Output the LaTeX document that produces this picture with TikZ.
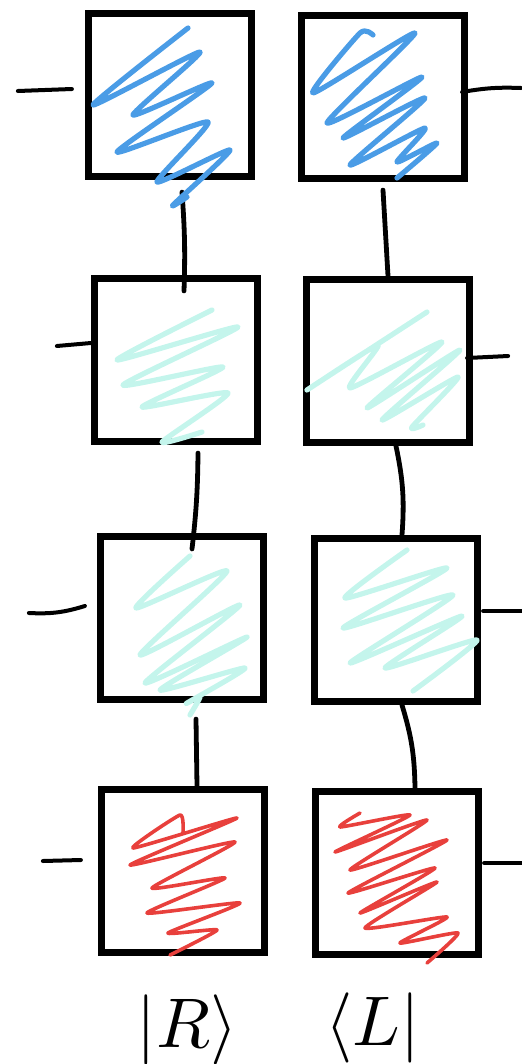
\documentclass[tikz,border=0pt]{standalone}
\usepackage{tikz}
\usetikzlibrary{calc}
\definecolor{penblue}{HTML}{4A9CE6}
\definecolor{pencyan}{HTML}{C4F5EC}
\definecolor{penred}{HTML}{E8403C}
\tikzset{
  cell/.style={rectangle, draw=black, line width=3.6mm, minimum size=81.5mm, inner sep=0pt},
  link/.style={draw=black, line width=2.4mm, line cap=round},
  stub/.style={draw=black, line width=2mm, line cap=round},
  scribble/.style={line width=2.6mm, line cap=round, line join=round},
  bluescrib/.style={scribble, draw=penblue},
  cyanscrib/.style={scribble, draw=pencyan},
  redscrib/.style={scribble, draw=penred, line width=1.8mm},
  ketlbl/.style={scale=10, inner sep=0pt},
}
\begin{document}
\begin{tikzpicture}[x=0.5mm, y=-0.5mm]
\useasboundingbox (0,0) rectangle (521,1064);

% left column
\node[cell] (L1) at (170,95) {};
\node[cell] (L2) at (176,360) {};
\node[cell] (L3) at (182,618) {};
\node[cell] (L4) at (183,871) {};
% right column
\node[cell] (R1) at (383,97) {};
\node[cell] (R2) at (388,361) {};
\node[cell] (R3) at (396,620) {};
\node[cell] (R4) at (397,873) {};

% links between the cells
\draw[link] ([xshift=6mm,yshift=-6mm]L1.south) to[bend left=3] ([xshift=4mm,yshift=-8mm]L2.north);
\draw[link] ([xshift=11mm,yshift=-4mm]L2.south) to[bend left=3] ([xshift=5mm,yshift=-8mm]L3.north);
\draw[link] ([xshift=7mm,yshift=-8mm]L3.south) -- ([xshift=7mm]L4.north);
\draw[link] ([yshift=-4mm]R1.south) -- (R2.north);
\draw[link] ([xshift=4mm]R2.south) to[bend left=8] ([xshift=3mm]R3.north);
\draw[link] ([xshift=3mm]R3.south) to[bend left=8] ([xshift=9mm]R4.north);

% side stubs
\draw[stub] ($(L1.west)+(-13,-6)$) -- ++(-54,2);
\draw[stub] ($(L2.west)+(0,-17)$) -- ++(-34,3);
\draw[stub] ($(L3.west)+(-12,-12)$) to[bend left=10] ++(-56,7);
\draw[stub] ($(L4.west)+(-17,-11)$) -- ++(-38,1);
\draw[stub] ($(R1.east)+(-6,-5)$) to[bend left=6] ++(59,-4);
\draw[stub] ($(R2.east)+(-6,-3)$) -- ++(41,-2);
\draw[stub] ($(R3.east)+(2,-9)$) -- ++(40,0);
\draw[stub] ($(R4.east)+(2,-10)$) -- ++(40,0);

% scribbles
\draw[bluescrib] plot[smooth, tension=0.35] coordinates {(188,28) (93,105) (200,52) (133,115) (212,83) (117,152)
  (208,122) (157,182) (230,150) (173,205) (187,197)};
\draw[bluescrib] plot[smooth, tension=0.35] coordinates {(373,35) (360,33) (313,93) (415,33) (327,123) (422,77)
  (343,138) (425,98) (350,165) (425,128) (397,162) (437,143) (397,178)};
\draw[cyanscrib] plot[smooth, tension=0.35] coordinates {(212,310) (117,360) (238,327) (123,385) (223,367) (142,407)
  (228,393) (162,442) (202,432)};
\draw[cyanscrib] plot[smooth, tension=0.35] coordinates {(427,312) (307,390) (378,345) (350,388) (442,342) (367,408)
  (460,350) (382,420) (458,377) (412,427) (423,425)};
\draw[cyanscrib] plot[smooth, tension=0.35] coordinates {(190,556) (136,608) (227,571) (140,655) (240,605) (145,683)
  (247,637) (160,690) (245,668) (187,703) (200,697) (190,715)};
\draw[cyanscrib] plot[smooth, tension=0.35] coordinates {(407,550) (345,598) (447,568) (343,628) (453,595) (350,663)
  (462,616) (385,668) (477,640) (413,691)};
\draw[redscrib] plot[smooth, tension=0.3] coordinates {(183,833) (180,815) (133,848) (237,818) (130,865) (235,842)
  (152,888) (225,878) (147,913) (240,903) (168,933) (217,930) (170,955)};
\draw[redscrib] plot[smooth, tension=0.3] coordinates {(360,813) (340,827) (410,815) (335,852) (427,820) (350,870)
  (447,840) (348,893) (435,868) (360,913) (437,882) (365,928)
  (447,917) (400,943) (458,933) (427,963)};

% labels
\node[ketlbl] (labR) at (187,1030) {$|R\rangle$};
\node[ketlbl] (labL) at (373,1028) {$\langle L|$};
\end{tikzpicture}
\end{document}
